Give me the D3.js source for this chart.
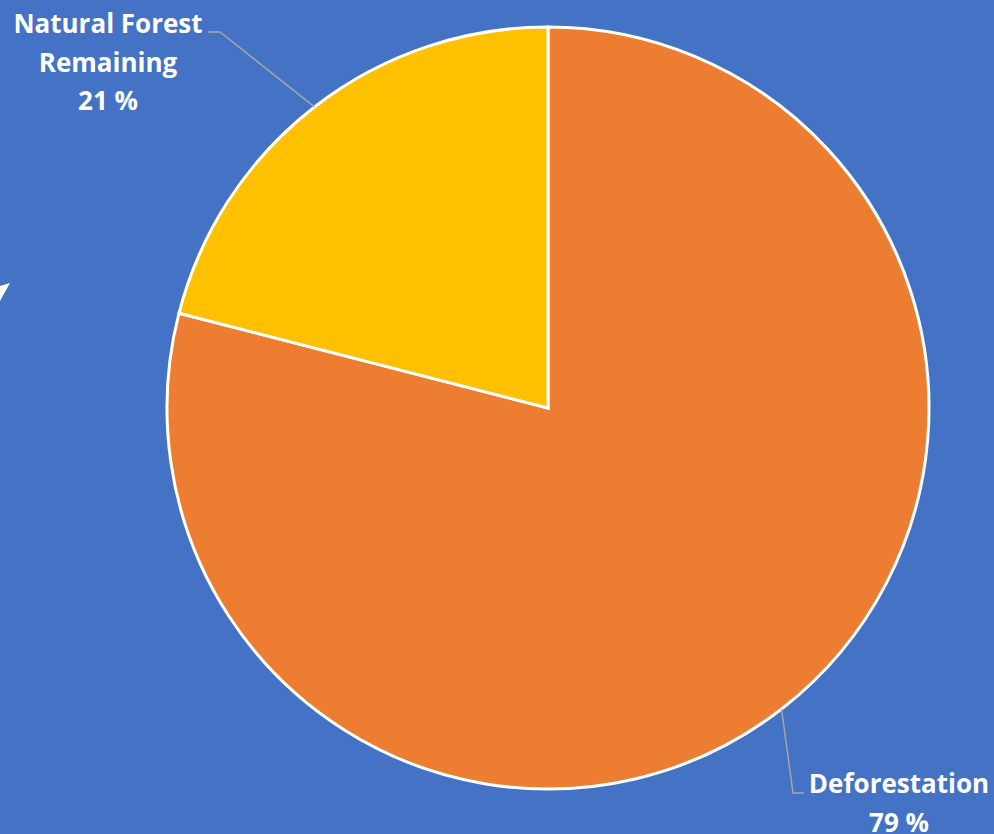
<!DOCTYPE html>
<html>
<head>
<meta charset="utf-8">
<script src="https://cdn.jsdelivr.net/npm/d3@7"></script>
<style>
  html, body { margin: 0; padding: 0; background: #4472C4; overflow: hidden; }
  svg { display: block; }
</style>
</head>
<body>
<div id="chart"></div>
<script>
var categories = ["Deforestation", "Natural Forest Remaining"];
var values = [79, 21];
var labelLines = [["Deforestation", "79 %"], ["Natural Forest", "Remaining", "21 %"]];

var width = 994, height = 834;
var cx = 548, cy = 408, radius = 381;
var colors = d3.scaleOrdinal().domain(categories).range(["#ED7D31", "#FFC000"]);

// label placement (leader elbow + text anchor), per slice
var labelPos = [
  {elbow: [793, 793], end: [804, 793], tx: 899, ty: 793},
  {elbow: [220, 32], end: [208, 32], tx: 108, ty: 33}
];

var svg = d3.select("#chart").append("svg")
  .attr("width", width)
  .attr("height", height);

svg.append("rect")
  .attr("width", width)
  .attr("height", height)
  .attr("fill", "#4472C4");

// little white arrow tip poking in at the left edge
svg.append("path")
  .attr("d", "M10,283 L0,286 L0,301 Z")
  .attr("fill", "#fff");

var data = categories.map(function(c, i) { return {name: c, value: values[i], i: i}; });

var pie = d3.pie().sort(null).value(function(d) { return d.value; });
var arcs = pie(data);

var arc = d3.arc().innerRadius(0).outerRadius(radius);
var edgeArc = d3.arc().innerRadius(radius).outerRadius(radius);

var g = svg.append("g").attr("transform", "translate(" + cx + "," + cy + ")");

g.selectAll("path.slice")
  .data(arcs)
  .enter()
  .append("path")
  .attr("class", "slice")
  .attr("d", arc)
  .attr("fill", function(d) { return colors(d.data.name); })
  .attr("stroke", "#fff")
  .attr("stroke-width", 3)
  .attr("stroke-linejoin", "miter");

// leader lines
svg.selectAll("polyline.leader")
  .data(arcs)
  .enter()
  .append("polyline")
  .attr("class", "leader")
  .attr("points", function(d) {
    var p = edgeArc.centroid(d);
    var lp = labelPos[d.data.i];
    return [[p[0] + cx, p[1] + cy], lp.elbow, lp.end].join(" ");
  })
  .attr("fill", "none")
  .attr("stroke", "#A6A6A6")
  .attr("stroke-width", 1.5);

// labels
var labels = svg.selectAll("text.lbl")
  .data(arcs)
  .enter()
  .append("text")
  .attr("class", "lbl")
  .attr("x", function(d) { return labelPos[d.data.i].tx; })
  .attr("y", function(d) { return labelPos[d.data.i].ty; })
  .attr("text-anchor", "middle")
  .attr("fill", "#fff")
  .style("font-family", "'Open Sans', Lato, sans-serif")
  .style("font-weight", "bold")
  .style("font-size", "26px");

labels.selectAll("tspan")
  .data(function(d) { return labelLines[d.data.i]; })
  .enter()
  .append("tspan")
  .attr("x", function() { return d3.select(this.parentNode).attr("x"); })
  .attr("dy", function(d, i) { return i === 0 ? 0 : 38.5; })
  .text(function(d) { return d; });
</script>
</body>
</html>
